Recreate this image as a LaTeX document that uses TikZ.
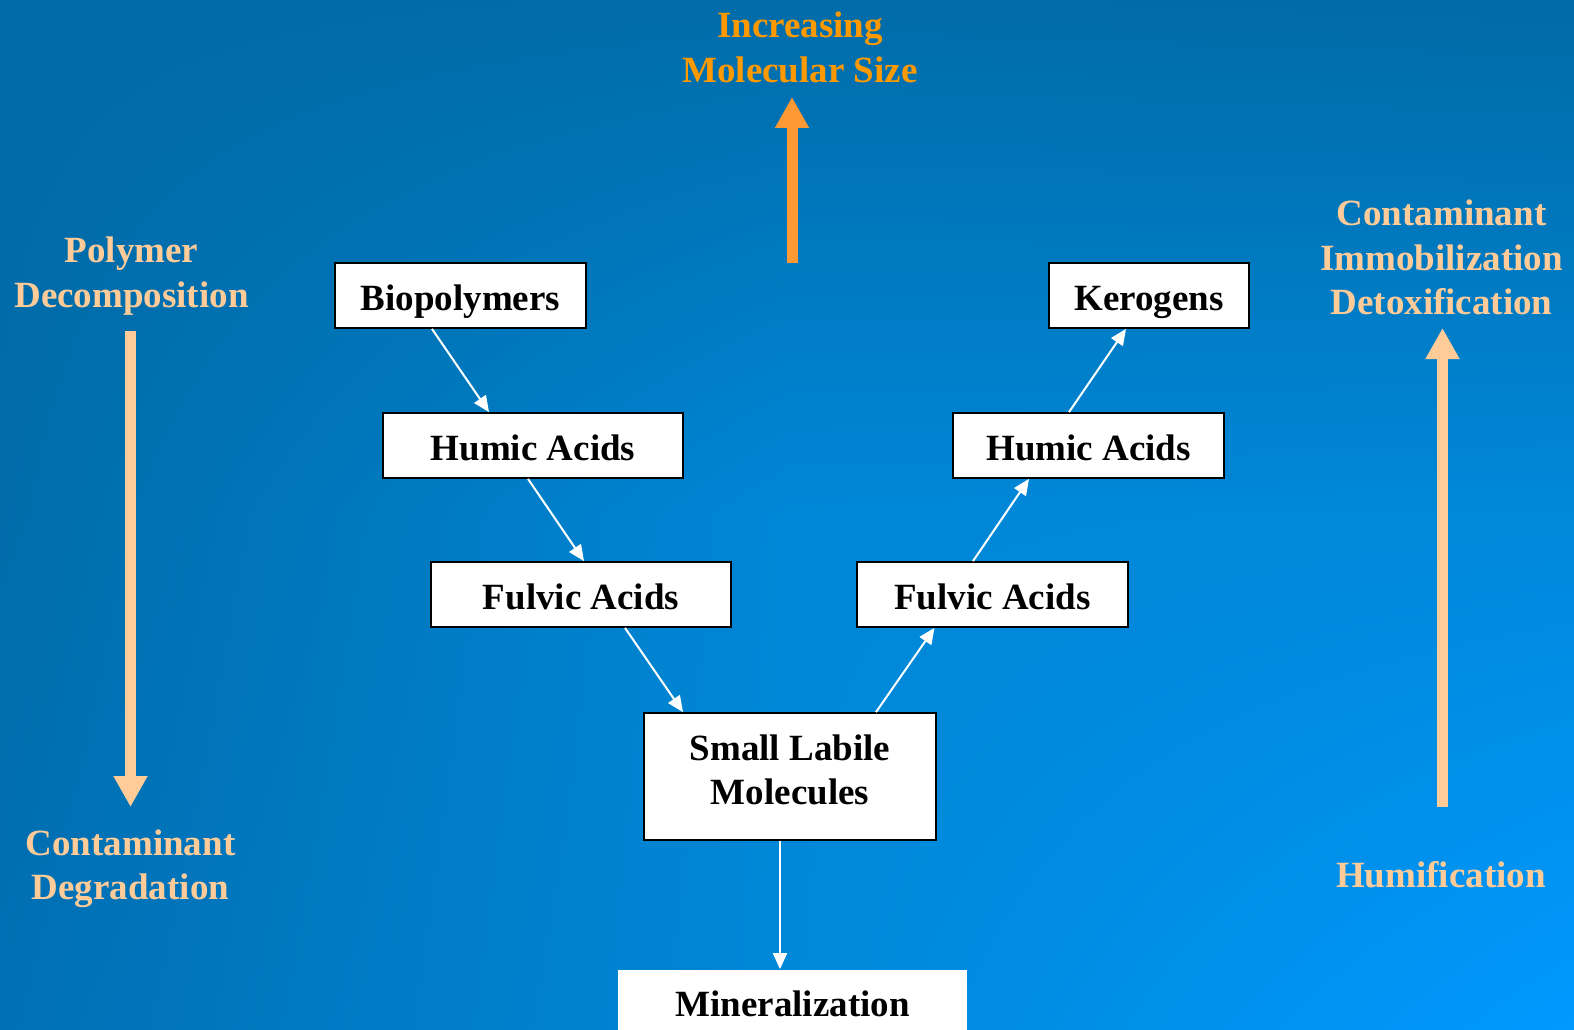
\documentclass[tikz,border=0pt]{standalone}
\usepackage{fontspec}
\setmainfont{Liberation Serif}
\usetikzlibrary{arrows.meta,shadings}
\definecolor{peach}{HTML}{FFCC99}
\definecolor{orangetxt}{HTML}{FF9900}
\definecolor{orangearr}{HTML}{FF9933}
\definecolor{bgTL}{HTML}{006AA6}
\definecolor{bgTM}{HTML}{006CA9}
\definecolor{bgTR}{HTML}{006AA6}
\definecolor{bgML}{HTML}{006CAA}
\definecolor{bgC}{HTML}{0087D7}
\definecolor{bgMR}{HTML}{0088DA}
\definecolor{bgBL}{HTML}{0070B5}
\definecolor{bgBM}{HTML}{0088D8}
\definecolor{bgBR}{HTML}{0099FF}
\begin{document}
\begin{tikzpicture}[x=1pt,y=1pt,
  box/.style={draw=black,line width=1.8pt,fill=white,inner sep=0pt,
    font=\bfseries\fontsize{37}{44.5}\selectfont,text=black,align=center},
  one/.style={text height=30pt,text depth=0pt},
  lbl/.style={inner sep=0pt,anchor=north,align=center,
    font=\bfseries\fontsize{37}{44.5}\selectfont},
  flow/.style={draw=white,line width=2pt,-{Triangle[length=16pt,width=14pt]}},
  bigarrow/.style={line width=11pt,-{Triangle[length=31pt,width=32pt]}}
]
\useasboundingbox (0,0) rectangle (1574,-1030);
% background
\shade[upper left=bgTL,upper right=bgTM,lower left=bgML,lower right=bgC] (0,0) rectangle (787.5,-515);
\shade[upper left=bgTM,upper right=bgTR,lower left=bgC,lower right=bgMR] (787,0) rectangle (1574,-515);
\shade[upper left=bgML,upper right=bgC,lower left=bgBL,lower right=bgBM] (0,-514.5) rectangle (787.5,-1030);
\shade[upper left=bgC,upper right=bgMR,lower left=bgBM,lower right=bgBR] (787,-514.5) rectangle (1574,-1030);

% boxes
\node[box,one,minimum width=251pt,minimum height=65pt] (bio) at (460.5,-295.5) {Biopolymers};
\node[box,one,minimum width=300pt,minimum height=65pt] (hum1) at (533,-445.5) {Humic Acids};
\node[box,one,minimum width=300pt,minimum height=65pt] (ful1) at (581,-594.5) {Fulvic Acids};
\node[box,text depth=14pt,minimum width=292pt,minimum height=127pt] (small) at (790,-776.5) {Small Labile\\Molecules};
\node[box,one,draw=none,minimum width=349pt,minimum height=62pt] (mine) at (792.5,-1001) {Mineralization};
\node[box,one,minimum width=200pt,minimum height=65pt] (ker) at (1149,-295.5) {Kerogens};
\node[box,one,minimum width=271pt,minimum height=65pt] (hum2) at (1088.5,-445.5) {Humic Acids};
\node[box,one,minimum width=271pt,minimum height=65pt] (ful2) at (992.5,-594.5) {Fulvic Acids};

% connectors
\draw[flow] ([xshift=-28.5pt]bio.south) -- ([xshift=-44pt]hum1.north);
\draw[flow] ([xshift=-5pt]hum1.south) -- ([xshift=3pt]ful1.north);
\draw[flow] ([xshift=44pt]ful1.south) -- ([xshift=-107pt]small.north);
\draw[flow] ([xshift=86pt]small.north) -- ([xshift=-58pt]ful2.south);
\draw[flow] ([xshift=-19.5pt]ful2.north) -- ([xshift=-59.5pt]hum2.south);
\draw[flow] ([xshift=-19.5pt]hum2.north) -- ([xshift=-23pt]ker.south);
\draw[flow] ([xshift=-10pt]small.south) -- ([xshift=-12.5pt]mine.north);

% labels
\node[lbl,text=orangetxt] (size) at (800,-12) {Increasing\\Molecular Size};
\node[lbl,text=peach] (poly) at (131.5,-237) {Polymer\\Decomposition};
\node[lbl,text=peach] (degr) at (130.5,-829.5) {Contaminant\\Degradation};
\node[lbl,text=peach] (immo) at (1441.5,-200) {Contaminant\\Immobilization\\Detoxification};
\node[lbl,text=peach] (humi) at (1441,-861.5) {Humification};

% big arrows
\coordinate (oa1) at (792,-263);
\coordinate (oa2) at (792,-97);
\coordinate (la1) at (130.5,-331);
\coordinate (la2) at (130.5,-807);
\coordinate (ra1) at (1442.5,-807);
\coordinate (ra2) at (1442.5,-328);
\draw[bigarrow,draw=orangearr,fill=orangearr] (oa1) -- (oa2);
\draw[bigarrow,draw=peach,fill=peach] (la1) -- (la2);
\draw[bigarrow,draw=peach,fill=peach] (ra1) -- (ra2);
\end{tikzpicture}
\end{document}
